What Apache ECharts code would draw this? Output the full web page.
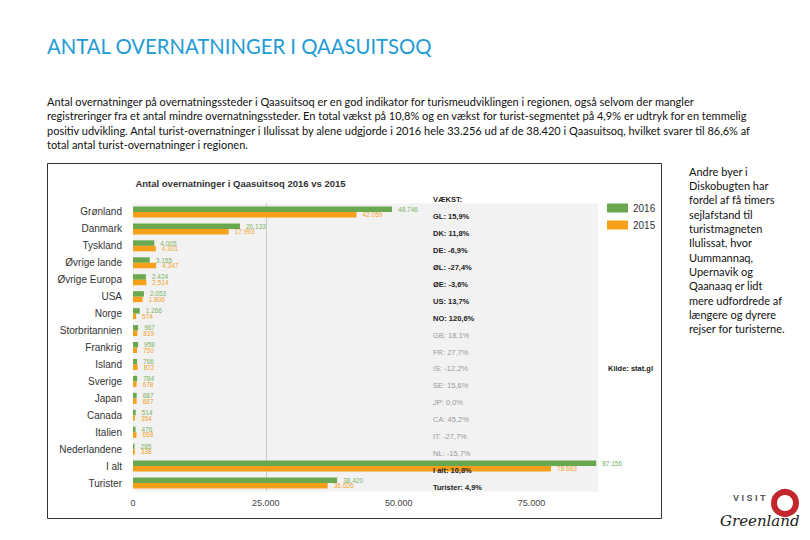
<!DOCTYPE html>
<html><head><meta charset="utf-8">
<script src="https://cdn.jsdelivr.net/npm/echarts@6/dist/echarts.min.js"></script>
<style>html,body{margin:0;padding:0;background:#fff}#c{width:810px;height:540px}</style>
</head><body><div id="c"></div>
<script>
const categories = ['Grønland','Danmark','Tyskland','Øvrige lande','Øvrige Europa','USA','Norge','Storbritannien','Frankrig','Island','Sverige','Japan','Canada','Italien','Nederlandene','I alt','Turister'];
const values2016 = [48746,20133,4005,3155,2424,2053,1266,967,958,766,784,687,514,476,285,87156,38420];
const values2015 = [42059,17993,4301,4347,2514,1806,574,819,750,872,678,687,354,658,338,78663,36626];
const growthLabels = ['GL: 15,9%','DK: 11,8%','DE: -6,9%','ØL: -27,4%','ØE: -3,6%','US: 13,7%','NO: 120,6%','GB: 18,1%','FR: 27,7%','IS: -12,2%','SE: 15,6%','JP: 0,0%','CA: 45,2%','IT: -27,7%','NL: -15,7%','I alt: 10,8%','Turister: 4,9%'];
const seriesNames = ['2016','2015'];
const xTicks = [0,25000,50000,75000];
const pageTitle = 'ANTAL OVERNATNINGER I QAASUITSOQ';
const introLines = [
 'Antal overnatninger på overnatningssteder i Qaasuitsoq er en god indikator for turismeudviklingen i regionen, også selvom der mangler',
 'registreringer fra et antal mindre overnatningssteder. En total vækst på 10,8% og en vækst for turist-segmentet på 4,9% er udtryk for en temmelig',
 'positiv udvikling. Antal turist-overnatninger i Ilulissat by alene udgjorde i 2016 hele 33.256 ud af de 38.420 i Qaasuitsoq, hvilket svarer til 86,6% af',
 'total antal turist-overnatninger i regionen.'
];
const sideLines = ['Andre byer i','Diskobugten har','fordel af få timers','sejlafstand til','turistmagneten','Ilulissat, hvor','Uummannaq,','Upernavik og','Qaanaaq er lidt','mere udfordrede af','længere og dyrere','rejser for turisterne.'];
const chartTitle = 'Antal overnatninger i Qaasuitsoq 2016 vs 2015';

const GREEN = '#6aa84f', ORANGE = '#f6a01a';
const fmt = v => String(v).replace(/\B(?=(\d{3})+(?!\d))/g, '.');
const SANS = 'Liberation Sans, Arial, sans-serif';
const BODY = 'Lato, sans-serif';

const chart = echarts.init(document.getElementById('c'), null, {renderer: 'svg'});

const graphics = [];
graphics.push({id:'box', type:'rect', z:-10, shape:{x:47.5,y:163.5,width:614,height:355}, style:{fill:'#fff', stroke:'#333', lineWidth:1}});
graphics.push({id:'ptitle', type:'text', style:{text:pageTitle, x:47, y:46, fontSize:20.3, fontFamily:BODY, fill:'#229bd4', align:'left', verticalAlign:'middle'}});
introLines.forEach((t,i)=>graphics.push({id:'intro'+i, type:'text', style:{text:t, x:47, y:101+i*14.5, fontSize:11, fontFamily:BODY, fill:'#111', align:'left', verticalAlign:'middle'}}));
sideLines.forEach((t,i)=>graphics.push({id:'side'+i, type:'text', style:{text:t, x:689, y:171+i*14.36, fontSize:11, fontFamily:BODY, fill:'#111', align:'left', verticalAlign:'middle'}}));
graphics.push({id:'ctitle', type:'text', style:{text:chartTitle, x:240.5, y:183, fontSize:9.5, fontWeight:'bold', fontFamily:SANS, fill:'#333', align:'center', verticalAlign:'middle'}});
graphics.push({id:'vaekst', type:'text', style:{text:'VÆKST:', x:433, y:199, fontSize:7.5, fontWeight:'bold', fontFamily:SANS, fill:'#222', align:'left', verticalAlign:'middle'}});
graphics.push({id:'kilde', type:'text', style:{text:'Kilde: stat.gl', x:608, y:368, fontSize:7.5, fontWeight:'bold', fontFamily:SANS, fill:'#222', align:'left', verticalAlign:'middle'}});
// logo
graphics.push({id:'logoRing', type:'circle', shape:{cx:785, cy:503, r:11}, style:{fill:'none', stroke:'#c4262e', lineWidth:6}});
graphics.push({id:'logoDot', type:'circle', shape:{cx:787, cy:499, r:3}, style:{fill:'#fff'}});
graphics.push({id:'logoVisit', type:'text', style:{text:'V I S I T', x:733, y:498, fontSize:9, fontWeight:'bold', fontFamily:SANS, fill:'#555', align:'left', verticalAlign:'middle'}});
graphics.push({id:'logoGl', type:'text', style:{text:'Greenland', x:720, y:521, fontSize:15, fontStyle:'italic', fontFamily:'DejaVu Serif, serif', fill:'#222', align:'left', verticalAlign:'middle'}});

const option = {
  animation: false,
  backgroundColor: '#fff',
  textStyle: {fontFamily: SANS},
  grid: {left:133, right:212, top:203.5, bottom:48.5, show:true, backgroundColor:'#f2f2f2', borderWidth:0},
  legend: {data: seriesNames, orient:'vertical', left:607, top:203, padding:0, itemWidth:21, itemHeight:9, itemGap:7, icon:'rect',
    textStyle:{fontSize:10, color:'#333', fontFamily:SANS}},
  xAxis: {type:'value', min:xTicks[0], max:87500, interval:xTicks[1]-xTicks[0],
    axisLine:{show:false}, axisTick:{show:false},
    axisLabel:{showMaxLabel:false, fontSize:9, color:'#444', margin:7, formatter: v => fmt(v)},
    splitLine:{show:true, lineStyle:{width:1, color:['rgba(0,0,0,0)','#c9c9c9','rgba(0,0,0,0)','rgba(0,0,0,0)','rgba(0,0,0,0)']}}},
  yAxis: {type:'category', data:categories, inverse:true,
    axisLine:{show:false}, axisTick:{show:false},
    axisLabel:{fontSize:10, color:'#333', margin:11}},
  series: [
    {name:seriesNames[0], type:'bar', data:values2016, barWidth:5.5, barGap:'0%', itemStyle:{color:GREEN},
      label:{show:true, position:'right', distance:6, fontSize:6.5, color:'#7ab35f', formatter: p => fmt(p.value)}},
    {name:seriesNames[1], type:'bar', data:values2015, barWidth:5.5, barGap:'0%', itemStyle:{color:ORANGE},
      label:{show:true, position:'right', distance:6, fontSize:6.5, color:'#f2a22a', formatter: p => fmt(p.value)}}
  ],
  graphic: graphics
};
chart.setOption(option);

const growthGraphics = growthLabels.map((t,i) => {
  const y = chart.convertToPixel({yAxisIndex:0}, categories[i]) + 4.5;
  const muted = i >= 7 && i <= 14;
  return {id:'g'+i, type:'text', z:50, style:{text:t, x:433, y:y, fontSize:7.5, fontWeight: muted ? 'normal' : 'bold', fontFamily:SANS,
    fill: muted ? '#9a9a9a' : '#222', align:'left', verticalAlign:'middle'}};
});
chart.setOption({graphic: growthGraphics});
</script>
</body></html>
